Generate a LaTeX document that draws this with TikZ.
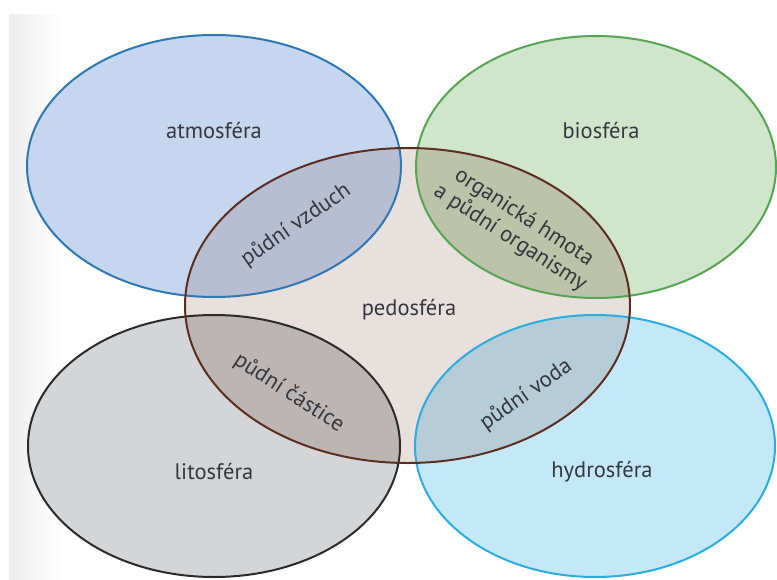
\documentclass[tikz,border=0pt]{standalone}
\usepackage{fontspec}
\setmainfont{PT Sans}
\begin{document}
\begin{tikzpicture}[x=1pt,y=-1pt,
  lbl/.style={text=txt, font=\fontsize{22.5}{25}\selectfont, inner sep=0pt},
  rim/.style={line width=2pt}]
\definecolor{txt}{HTML}{343840}
\definecolor{atF}{HTML}{C6D6EE}\definecolor{atS}{HTML}{2E78B4}
\definecolor{biF}{HTML}{CFE6CB}\definecolor{biS}{HTML}{55A552}
\definecolor{peF}{HTML}{E7E0DC}\definecolor{peS}{HTML}{5B2E20}
\definecolor{liF}{HTML}{D4D5D7}\definecolor{liS}{HTML}{2B2B2B}
\definecolor{hyF}{HTML}{C5E8F8}\definecolor{hyS}{HTML}{2AAEE0}
\definecolor{atpe}{HTML}{B8BED2}
\definecolor{bipe}{HTML}{BCC3A8}
\definecolor{lipe}{HTML}{BDB5B3}
\definecolor{hype}{HTML}{B6CCD6}
\useasboundingbox (0,0) rectangle (777,579);
\fill[white] (0,0) rectangle (777,579);
\shade[left color=black!7, right color=white] (9,14) rectangle (62,579);
% ellipse definitions
\def\atm{(214,166) ellipse [x radius=187, y radius=131]}
\def\bio{(596,167) ellipse [x radius=180, y radius=131]}
\def\ped{(407.5,305.5) ellipse [x radius=222.5, y radius=157.5]}
\def\lit{(214,446) ellipse [x radius=186, y radius=131]}
\def\hyd{(595,446) ellipse [x radius=180, y radius=131]}
% fills
\fill[atF] \atm;
\fill[biF] \bio;
\fill[liF] \lit;
\fill[hyF] \hyd;
\fill[peF] \ped;
\begin{scope}\clip \ped; \fill[atpe] \atm; \fill[bipe] \bio; \fill[lipe] \lit; \fill[hype] \hyd;\end{scope}
% rims
\draw[rim, atS] \atm;
\draw[rim, biS] \bio;
\draw[rim, liS] \lit;
\draw[rim, hyS] \hyd;
\draw[rim, peS] \ped;
% labels
\node[lbl] (atmos) at (214,131) {atmosféra};
\node[lbl] (bios) at (601,131) {biosféra};
\node[lbl] (pedos) at (409,310) {pedosféra};
\node[lbl] (litos) at (214,472) {litosféra};
\node[lbl] (hydros) at (602,472) {hydrosféra};
\node[lbl, rotate=35] (vzduch) at (296,225) {půdní vzduch};
\node[lbl, rotate=-33, align=center] (organ) at (517,228) {organická hmota\\a půdní organismy};
\node[lbl, rotate=-33] (castice) at (289,393) {půdní částice};
\node[lbl, rotate=35] (voda) at (526,395) {půdní voda};
\end{tikzpicture}
\end{document}
